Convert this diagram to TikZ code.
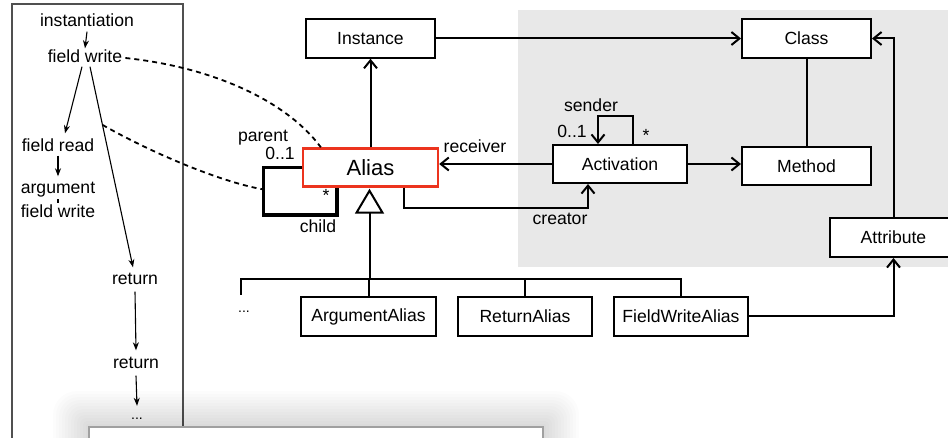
\documentclass[tikz,border=0pt]{standalone}
\usepackage{fontspec}
\setmainfont{Liberation Sans}
\usetikzlibrary{arrows.meta}
\newcommand\myfs{\fontsize{17.6}{20}\selectfont}
\newcommand\myfsbig{\fontsize{22}{24}\selectfont}
\newcommand\myfsdots{\fontsize{14}{16}\selectfont}
\definecolor{regiongray}{RGB}{232,232,232}
\definecolor{aliasred}{RGB}{236,52,30}
\definecolor{boxgray}{RGB}{160,160,160}
\definecolor{framegray}{RGB}{80,80,80}
\tikzset{
  cls/.style={draw, line width=2pt, fill=white, inner sep=0pt, minimum height=38.5pt, font=\myfs},
  lbl/.style={inner sep=0pt, font=\myfs, text height=13pt, text depth=4pt},
  conn/.style={line width=2pt},
  oarrow/.style={conn, -{Straight Barb[length=8pt,width=13pt]}},
  thin/.style={line width=1.1pt, -{Stealth[length=8pt,width=6pt,inset=2.5pt]}},
  dashcurve/.style={line width=1.8pt, dash pattern=on 5pt off 4pt},
  loopline/.style={line width=3.2pt},
}
\begin{document}
\begin{tikzpicture}[x=1pt,y=-1pt]
\useasboundingbox (0,0) rectangle (948,438);
\clip (0,0) rectangle (948,438);
\fill[white] (0,0) rectangle (948,438);
% gray region
\fill[regiongray] (518,10) rectangle (960,267);
% left frame
\draw[framegray, line width=1.2pt] (12,450) -- (12,4) -- (183,4) -- (183,427);

% left box texts
\node[lbl] (inst) at (87,22) {instantiation};
\node[lbl] (fw1) at (85,58) {field write};
\node[lbl] (fr) at (58,147) {field read};
\node[lbl] (arg) at (58,189) {argument};
\node[lbl] (fw2) at (58,213) {field write};
\node[lbl] (ret1) at (135,280) {return};
\node[lbl] (ret2) at (136,364) {return};
\node[inner sep=0pt, font=\myfsdots, text height=4pt, text depth=0pt] (dots1) at (137,417) {...};

\draw[thin] ([yshift=-1pt]inst.south) -- ([yshift=1pt]fw1.north);
\draw[thin] ([xshift=-3pt]fw1.south) -- ([xshift=7pt,yshift=5pt]fr.north);
\draw[thin] (fr.south) -- ([yshift=4pt]arg.north);
\draw[line width=1.1pt] ([yshift=-1.5pt]arg.south) -- ([yshift=1.5pt]fw2.north);
\draw[thin] ([xshift=5pt]fw1.south) -- coordinate[pos=0.29] (dstart) ([xshift=-2pt,yshift=4pt]ret1.north);
\draw[thin] ([yshift=-3pt]ret1.south) -- ([yshift=5pt]ret2.north);
\draw[thin] ([yshift=-3pt]ret2.south) -- ([yshift=9pt]dots1.north);

% main classes
\node[cls, minimum width=129pt] (Instance) at (370.5,38.5) {Instance};
\node[cls, minimum width=129pt] (Class) at (806.5,38.5) {Class};
\node[cls, minimum width=135pt, minimum height=38pt, draw=aliasred, line width=2.4pt, font=\myfsbig] (Alias) at (370.5,167.5) {Alias};
\node[cls, minimum width=134pt, minimum height=38pt] (Activation) at (620,164) {Activation};
\node[cls, minimum width=129pt, minimum height=38pt] (Method) at (806.5,166) {Method};
\node[cls, minimum width=127pt, minimum height=39pt] (Attribute) at (893.5,237.5) {Attribute};
\node[cls, minimum width=135pt, minimum height=39pt] (ArgAlias) at (368.5,316.5) {ArgumentAlias};
\node[cls, minimum width=134pt, minimum height=39pt] (RetAlias) at (525,316.5) {ReturnAlias};
\node[cls, minimum width=134pt, minimum height=39pt] (FWAlias) at (681,316.5) {FieldWriteAlias};

% connectors
\draw[oarrow] (Alias.north) -- (Instance.south);
\draw[oarrow] (Instance.east) -- (Class.west);
\draw[oarrow] (Activation.west) -- (Activation.west -| Alias.east);
\draw[oarrow] (Activation.east) -- (Activation.east -| Method.west);
\draw[conn] (Class.south) -- (Method.north);
\draw[oarrow] (Attribute.north) |- (Class.east);
\draw[oarrow] (FWAlias.east) -| (Attribute.south);
\draw[oarrow] ([xshift=33.5pt]Alias.south) -- ++(0,20) -| ([xshift=-32pt]Activation.south);
\draw[oarrow] ([xshift=13pt]Activation.north) -- ++(0,-28) -| ([xshift=-22pt]Activation.north);
\draw[loopline] (Alias.west) -- ++(-38,0) coordinate (loopTL) -- ++(0,47.5) -| ([xshift=-33.5pt]Alias.south);
\coordinate (loopL) at ([yshift=-22pt]loopTL);

% generalization
\coordinate (gen) at ([xshift=-1pt,yshift=-3pt]Alias.south);
\draw[line width=2pt, fill=white] (gen) -- ++(-13,22) -- ++(26,0) -- cycle;
\coordinate (genbase) at ([yshift=-22pt]gen);
\coordinate (barL) at (241,279);
\coordinate (barR) at (FWAlias.north |- barL);
\draw[conn] (genbase) -- (genbase |- barL);
\draw[conn] (241,295) -- (barL) -- (barR) -- (FWAlias.north);
\draw[conn] (ArgAlias.north) -- (ArgAlias.north |- barL);
\draw[conn] (RetAlias.north) -- (RetAlias.north |- barL);
\node[inner sep=0pt, font=\myfsdots, text height=4pt, text depth=0pt] (dots2) at (244,311) {...};

% labels
\node[lbl] at (475,148) {receiver};
\node[lbl] at (560,220) {creator};
\node[lbl] at (591,107) {sender};
\node[lbl] at (572,133) {0..1};
\node[lbl] at (646,137) {*};
\node[lbl] at (263,137) {parent};
\node[lbl] at (280,155) {0..1};
\node[lbl] at (326,197) {*};
\node[lbl] at (318,228) {child};

% dashed links
\draw[dashcurve] ([xshift=3pt]fw1.east) .. controls (220,68) and (290,105) .. ([xshift=19pt]Alias.north west);
\draw[dashcurve] (dstart) .. controls (150,152) and (220,182) .. (loopL);

% bottom overlay box with shadow
\foreach \i in {1,...,12} {
  \fill[black, opacity=0.012, rounded corners=\i*2pt] (89-\i*3,427-\i*3) rectangle (543+\i*3,470);
}
\draw[boxgray, line width=1.5pt, fill=white] (89,427) rectangle (543,470);
\end{tikzpicture}
\end{document}
